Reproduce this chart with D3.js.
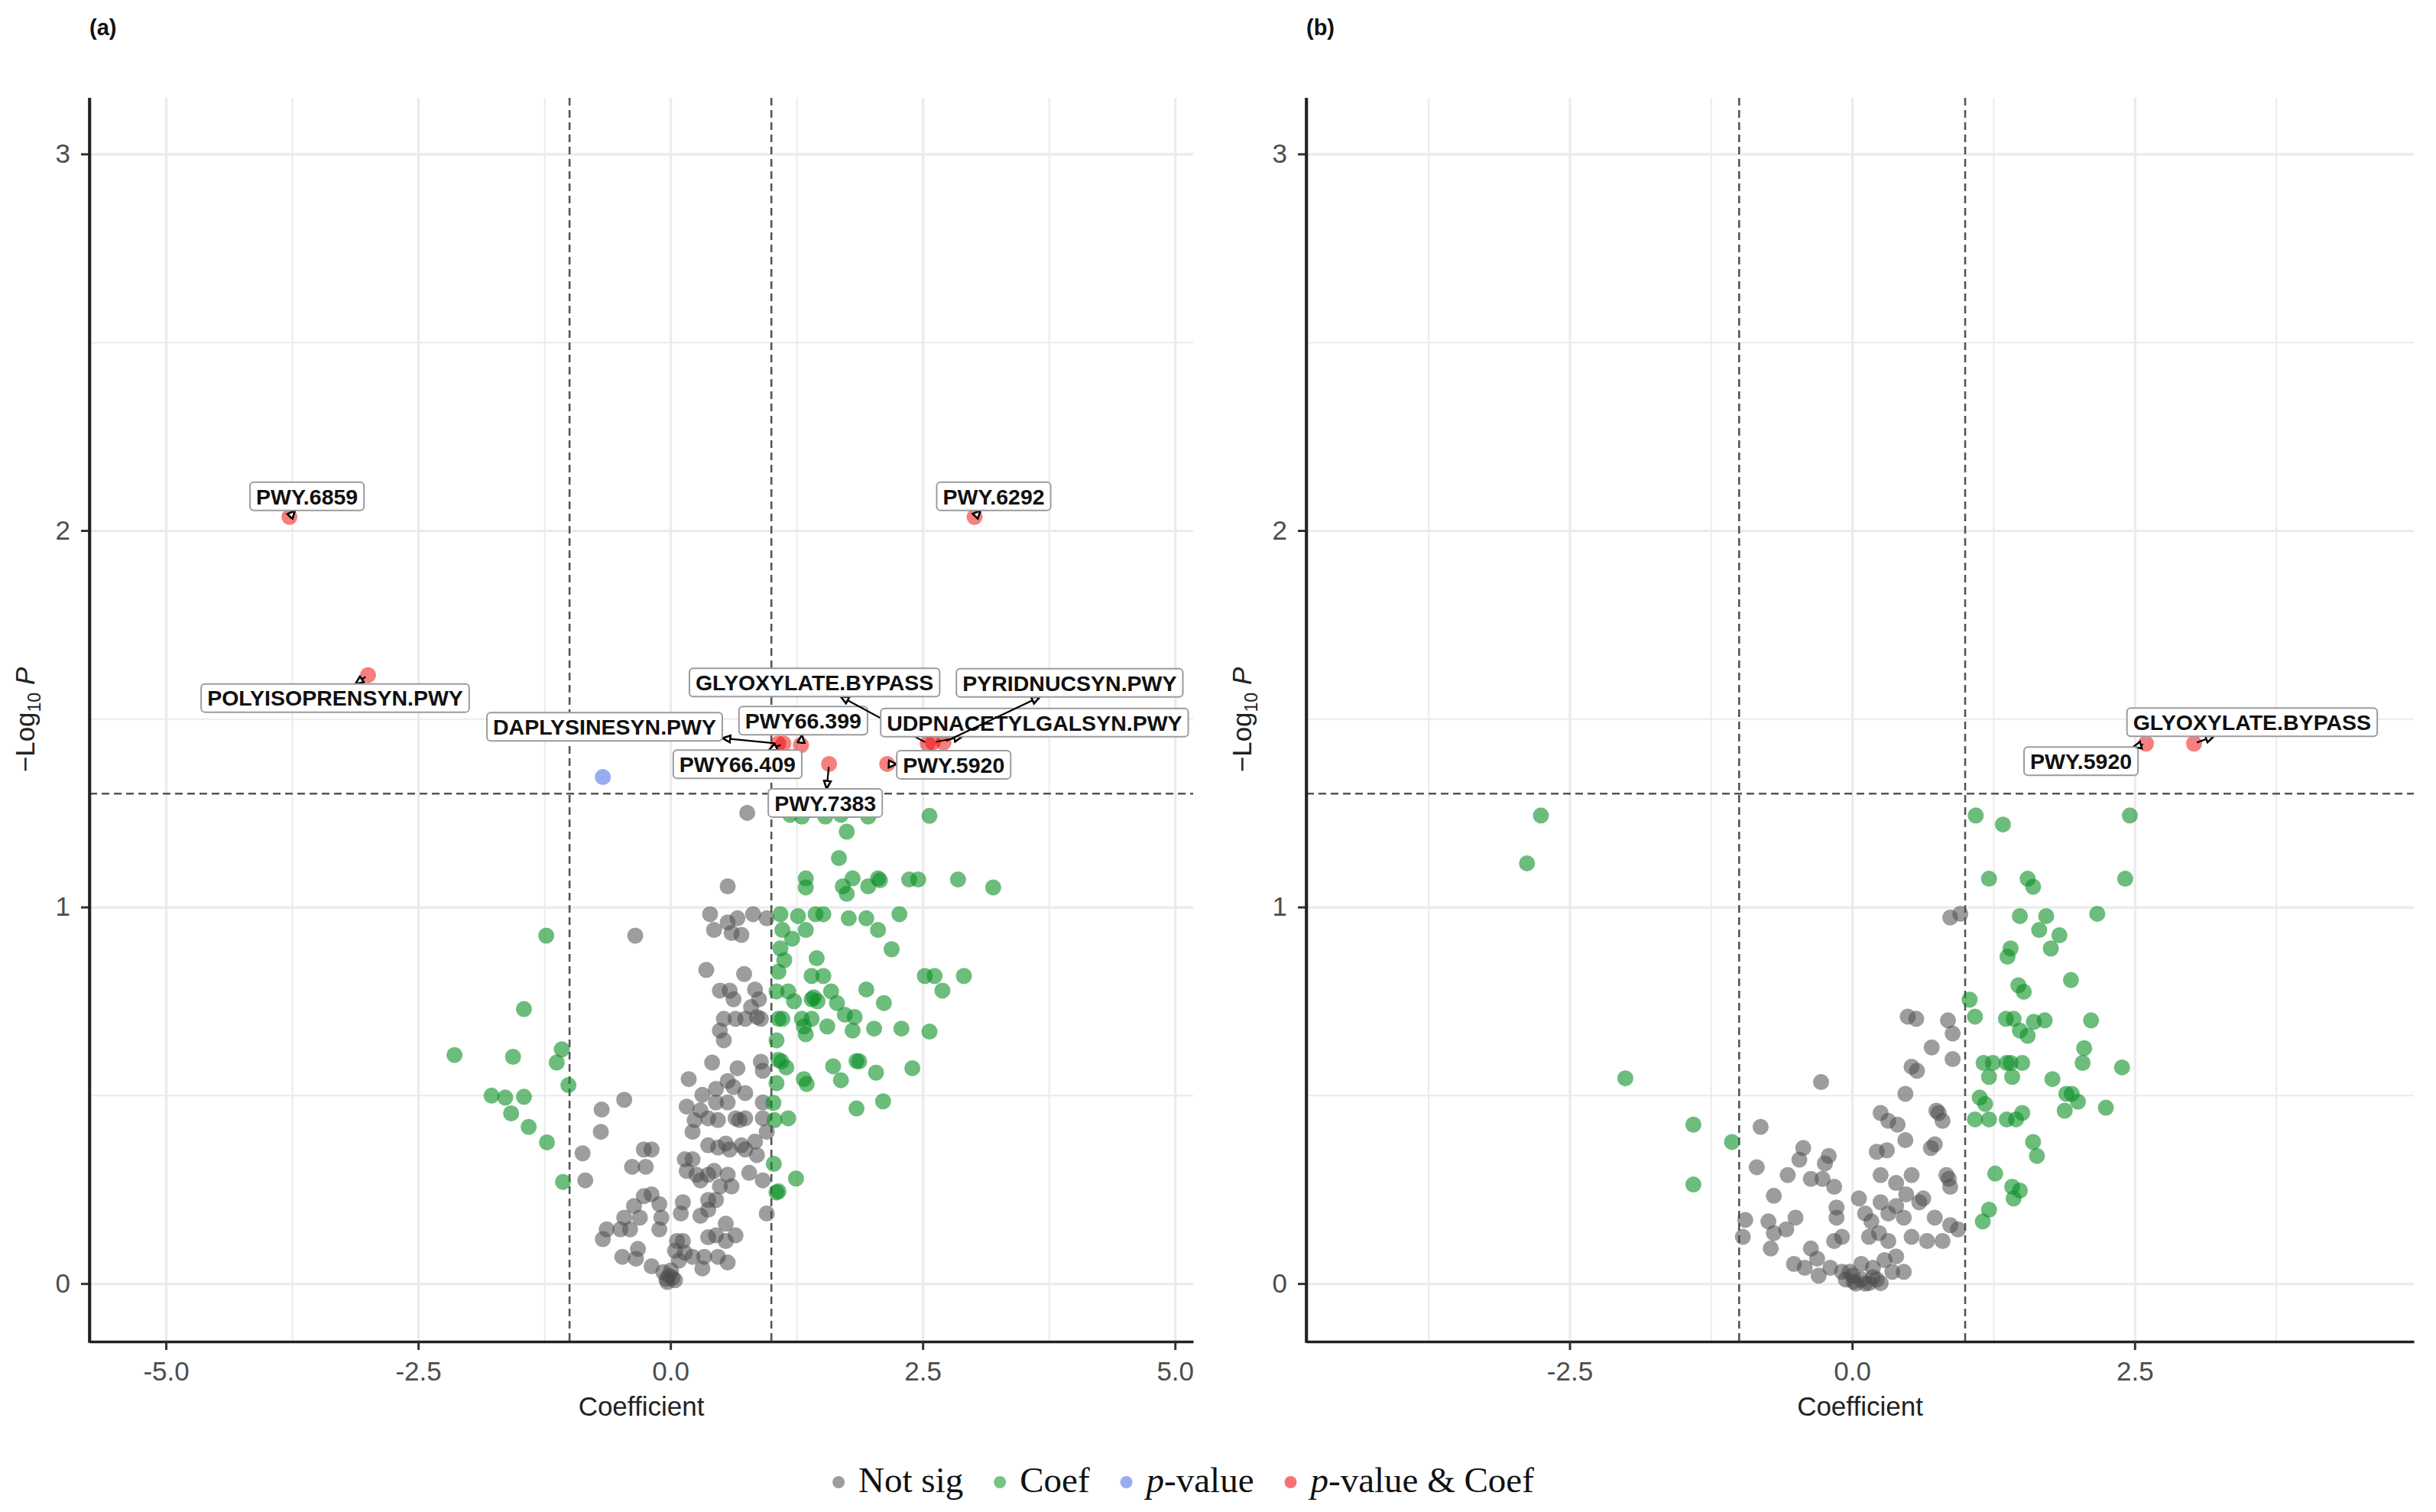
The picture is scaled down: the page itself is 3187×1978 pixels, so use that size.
<!DOCTYPE html>
<html>
<head>
<meta charset="utf-8">
<script src="https://cdn.jsdelivr.net/npm/d3@7"></script>
<style>
  body { margin: 0; background: #fff; }
  svg { display: block; }
</style>
</head>
<body>
<svg id="chart"></svg>
<script>
// ---- panel (a) values: [coefficient, -log10 p]
const aNotSig = [
  [0.761,1.250],[0.567,1.055],
  [0.393,0.981],[0.432,0.939],[0.567,0.959],[0.664,0.970],[0.703,0.926],[0.606,0.931],[0.819,0.981],[0.954,0.970],
  [-0.349,0.924],[0.355,0.833],[0.730,0.822],
  [0.490,0.778],[0.587,0.778],[0.625,0.755],[0.838,0.781],[0.877,0.755],[0.799,0.734],[0.857,0.708],[0.896,0.703],
  [0.529,0.703],[0.645,0.703],[0.741,0.703],[0.490,0.672],[0.529,0.646],
  [0.413,0.587],[0.664,0.572],[0.896,0.589],[0.915,0.565],
  [0.181,0.543],[0.316,0.501],[0.451,0.517],[0.567,0.538],[0.625,0.522],[0.741,0.506],
  [0.161,0.470],[0.297,0.460],[0.451,0.481],[0.567,0.481],
  [0.374,0.439],[0.471,0.434],[0.645,0.439],[0.741,0.439],[0.683,0.434],[0.239,0.434],[0.219,0.403],[0.915,0.439],[0.915,0.481],[0.954,0.403],
  [-0.458,0.488],[-0.682,0.462],[-0.690,0.403],[-0.871,0.346],[-0.844,0.274],
  [0.374,0.367],[0.471,0.361],[0.548,0.372],[0.587,0.356],[0.703,0.367],[0.741,0.356],[0.838,0.377],[0.857,0.341],
  [-0.264,0.356],[-0.187,0.356],[-0.380,0.310],[-0.245,0.310],
  [0.142,0.330],[0.219,0.330],[0.161,0.299],[0.258,0.289],[0.297,0.274],[0.374,0.289],[0.432,0.299],[0.490,0.258],[0.567,0.289],[0.606,0.258],
  [0.780,0.294],[0.915,0.274],
  [0.123,0.216],[0.103,0.186],[0.297,0.180],[0.374,0.222],[0.451,0.222],[0.374,0.196],
  [-0.264,0.232],[-0.187,0.237],[-0.361,0.206],[-0.303,0.175],[-0.110,0.211],[-0.090,0.175],
  [-0.458,0.175],[-0.496,0.144],[-0.400,0.144],[-0.632,0.144],[-0.670,0.118],[-0.110,0.144],
  [-0.322,0.092],[-0.477,0.071],[-0.342,0.066],[-0.187,0.046],
  [0.065,0.113],[0.123,0.113],[0.045,0.087],[0.142,0.082],[0.084,0.061],
  [0.219,0.071],[0.335,0.071],[0.471,0.071],[0.567,0.056],[0.316,0.040],[0.374,0.123],[0.451,0.128],[0.548,0.159],[0.645,0.128],[0.548,0.113],
  [0.954,0.186],
  [-0.071,0.030],[-0.013,0.020],[0.045,0.009],[-0.032,0.004],[0.006,0.035],[0.020,0.015],[-0.040,0.012]
];
const aCoef = [
  [1.186,1.245],[1.302,1.240],[1.535,1.240],[1.689,1.245],[1.960,1.240],[2.567,1.242],
  [1.747,1.200],[1.670,1.130],
  [1.341,1.076],[1.341,1.052],[1.805,1.076],[1.708,1.055],[1.747,1.035],[1.960,1.055],[2.057,1.076],[2.076,1.071],
  [2.366,1.073],[2.455,1.073],[2.850,1.073],[3.198,1.052],
  [1.090,0.981],[1.264,0.976],[1.341,0.939],[1.438,0.981],[1.515,0.981],[1.767,0.970],[1.941,0.970],[2.057,0.939],
  [2.269,0.981],[1.109,0.939],[1.206,0.916],[1.090,0.890],[1.128,0.859],[1.070,0.828],[1.449,0.864],[2.192,0.888],
  [-1.231,0.924],
  [1.399,0.817],[1.515,0.817],[2.521,0.817],[2.617,0.817],[2.908,0.817],[2.695,0.778],[1.941,0.781],[1.051,0.776],
  [1.167,0.776],[1.399,0.755],[1.457,0.750],[1.420,0.760],[1.592,0.776],[1.650,0.745],[1.728,0.714],[2.115,0.745],[1.225,0.750],
  [1.070,0.703],[1.109,0.703],[1.302,0.703],[1.399,0.703],[1.554,0.683],[1.825,0.708],[1.805,0.672],[2.018,0.677],
  [2.289,0.677],[2.567,0.669],[1.341,0.662],[1.322,0.683],[1.051,0.646],
  [-1.452,0.729],[-2.140,0.607],[-1.560,0.602],[-1.077,0.622],[-1.127,0.587],[-1.011,0.527],[-1.773,0.499],[-1.637,0.494],
  [-1.452,0.496],[-1.579,0.452],[-1.405,0.416],[-1.224,0.375],[-1.065,0.270],
  [1.070,0.594],[1.148,0.574],[1.100,0.590],[1.322,0.543],[1.350,0.530],[1.612,0.577],[1.689,0.540],[1.844,0.591],
  [1.870,0.590],[2.037,0.560],[2.397,0.572],[1.844,0.465],[2.107,0.484],[1.051,0.532],[1.020,0.480],[1.031,0.434],
  [1.167,0.439],[1.024,0.318],[1.051,0.242],[1.070,0.245],[1.244,0.279]
];
const aPval = [[-0.670,1.345]];
const aBoth = [
  [-3.776,2.036],[3.014,2.036],[-2.997,1.616],[1.067,1.434],[1.119,1.434],[1.293,1.430],
  [1.572,1.380],[2.148,1.380],[2.549,1.434],[2.600,1.437],[2.706,1.437]
];
const aLabels = [
  'PWY.6859','PWY.6292','POLYISOPRENSYN.PWY','DAPLYSINESYN.PWY','PWY66.409','PWY66.399',
  'PWY.7383','PWY.5920','GLYOXYLATE.BYPASS','UDPNACETYLGALSYN.PWY','PYRIDNUCSYN.PWY'
];

// ---- panel (b) values
const bNotSig = [
  [0.868,0.972],[0.957,0.982],[0.492,0.709],[0.567,0.703],[0.848,0.699],[0.889,0.664],[0.704,0.627],[0.889,0.596],
  [0.526,0.576],[0.574,0.565],[-0.275,0.535],[0.471,0.504],[0.745,0.459],[0.766,0.453],[0.252,0.453],[0.320,0.432],
  [0.402,0.422],[0.800,0.432],[-0.810,0.416],[0.218,0.350],[0.307,0.354],[0.471,0.381],[0.697,0.360],[0.731,0.370],
  [-0.433,0.360],[-0.467,0.329],[-0.207,0.339],[-0.241,0.319],[-0.844,0.309],[-0.570,0.288],[-0.365,0.278],[-0.262,0.278],
  [-0.159,0.257],[0.252,0.288],[0.389,0.267],[0.526,0.288],[0.834,0.288],[0.868,0.257],[0.855,0.278],
  [-0.693,0.233],[0.060,0.226],[0.252,0.216],[0.389,0.206],[0.478,0.237],[0.594,0.216],[0.629,0.226],
  [-0.138,0.202],[-0.138,0.175],[-0.501,0.175],[-0.946,0.169],[-0.741,0.165],
  [0.115,0.186],[0.170,0.165],[0.320,0.186],[0.457,0.175],[0.731,0.175],[0.868,0.155],[0.937,0.144],
  [-0.967,0.124],[-0.693,0.134],[-0.720,0.093],[-0.583,0.144],[-0.365,0.093],[-0.159,0.113],[-0.090,0.124],
  [0.149,0.124],[0.238,0.134],[0.320,0.113],[0.526,0.124],[0.663,0.113],[0.800,0.113],
  [-0.515,0.052],[-0.419,0.042],[-0.310,0.066],[-0.296,0.021],[-0.193,0.042],[-0.090,0.031],[-0.022,0.031],
  [0.081,0.052],[0.184,0.042],[0.286,0.062],[0.389,0.072],[0.457,0.031],[0.355,0.031],
  [-0.056,0.011],[0.012,0.005],[0.081,0.011],[0.149,0.001],[0.218,0.011],[0.033,0.000],[0.115,0.000],
  [0.184,0.017],[0.252,0.001],[0.006,0.021]
];
const bCoef = [
  [-2.754,1.243],[-2.877,1.116],[-2.007,0.545],[-1.405,0.422],[-1.405,0.263],[-1.063,0.376],
  [1.094,1.243],[1.334,1.219],[2.457,1.243],[1.211,1.075],[1.553,1.075],[1.601,1.054],[2.416,1.075],
  [1.484,0.976],[1.717,0.976],[2.169,0.982],[1.655,0.939],[1.834,0.925],[1.402,0.890],[1.375,0.868],[1.758,0.890],
  [1.936,0.806],[1.471,0.792],[1.519,0.775],[1.039,0.754],[1.087,0.709],[1.361,0.703],[1.429,0.703],
  [1.484,0.672],[1.553,0.658],[1.608,0.695],[1.704,0.699],[2.114,0.699],[2.053,0.625],[2.039,0.586],
  [1.163,0.586],[1.245,0.586],[1.368,0.586],[1.402,0.586],[1.505,0.586],[1.416,0.549],[1.211,0.549],[1.772,0.543],
  [2.388,0.574],[1.895,0.504],[1.943,0.504],[1.998,0.483],[1.881,0.459],[2.245,0.467],
  [1.129,0.494],[1.177,0.477],[1.211,0.436],[1.087,0.436],[1.368,0.436],[1.450,0.436],[1.505,0.453],
  [1.601,0.376],[1.635,0.339],[1.266,0.292],[1.416,0.257],[1.484,0.247],[1.429,0.226],[1.211,0.196],[1.156,0.165]
];
const bPval = [];
const bBoth = [[2.600,1.434],[3.025,1.434]];
const bLabels = ['PWY.5920','GLYOXYLATE.BYPASS'];

// ---- ticks and legend
const yTicks = [0, 1, 2, 3];
const yMinor = [0.5, 1.5, 2.5];
const aXTicks = [-5, -2.5, 0, 2.5, 5];
const bXTicks = [-2.5, 0, 2.5];
const xMinor = [-3.75, -1.25, 1.25, 3.75];
const coefCut = [-1, 1];
const pCut = 1.301;
const legendKeys = ['Not sig', 'Coef', 'p-value', 'p-value & Coef'];

// label placement (px offset of box centre from its point)
const aLabelOffsets = [
  [23,-27],[25,-27],[-43,30],[-227,-22],[-60,27],[3,-32],[-5,51],[87,1],[-148,-80],[133,-26],[165,-78]
];
const bLabelOffsets = [[-85,23],[76,-28]];

const W = 3187, H = 1978;
const plotTop = 128, plotBottom = 1755;
const sans = '"Liberation Sans", Arial, sans-serif';
const colours = ['#4d4d4d', '#0a8f24', '#4169e1', '#ee0000'];
const opacities = [0.55, 0.6, 0.55, 0.5];

const svg = d3.select('#chart').attr('width', W).attr('height', H);
svg.append('rect').attr('width', W).attr('height', H).attr('fill', '#fff');

svg.append('defs').append('marker')
  .attr('id', 'tri')
  .attr('viewBox', '0 0 10 10')
  .attr('refX', 9).attr('refY', 5)
  .attr('markerWidth', 13).attr('markerHeight', 13)
  .attr('markerUnits', 'userSpaceOnUse')
  .attr('orient', 'auto')
  .append('path')
  .attr('d', 'M1,1.5 L9,5 L1,8.5 Z')
  .attr('fill', '#fff').attr('stroke', '#000').attr('stroke-width', 2);

function drawPanel(cfg) {
  const x = d3.scaleLinear().domain(cfg.xDomain).range([cfg.left, cfg.right]);
  const y = d3.scaleLinear().domain([-0.154, 3.149]).range([plotBottom, plotTop]);
  const g = svg.append('g');

  // grid
  const grid = (sel, w) => sel.call(s => s.select('.domain').remove())
    .selectAll('line').attr('stroke', '#ebebeb').attr('stroke-width', w);
  g.append('g').attr('transform', `translate(0,${plotBottom})`)
    .call(d3.axisBottom(x).tickValues(xMinor.filter(v => x(v) > cfg.left)).tickSize(-(plotBottom - plotTop)).tickFormat(''))
    .call(grid, 2);
  g.append('g').attr('transform', `translate(${cfg.left},0)`)
    .call(d3.axisLeft(y).tickValues(yMinor).tickSize(-(cfg.right - cfg.left)).tickFormat(''))
    .call(grid, 2);
  g.append('g').attr('transform', `translate(0,${plotBottom})`)
    .call(d3.axisBottom(x).tickValues(cfg.xTicks).tickSize(-(plotBottom - plotTop)).tickFormat(''))
    .call(grid, 3.2);
  g.append('g').attr('transform', `translate(${cfg.left},0)`)
    .call(d3.axisLeft(y).tickValues(yTicks).tickSize(-(cfg.right - cfg.left)).tickFormat(''))
    .call(grid, 3.2);

  // cut-off lines
  g.selectAll('.vcut').data(coefCut).enter().append('line')
    .attr('x1', d => x(d)).attr('x2', d => x(d)).attr('y1', plotTop).attr('y2', plotBottom)
    .attr('stroke', '#555').attr('stroke-width', 2.6).attr('stroke-dasharray', '10,6');
  g.append('line')
    .attr('x1', cfg.left).attr('x2', cfg.right).attr('y1', y(pCut)).attr('y2', y(pCut))
    .attr('stroke', '#555').attr('stroke-width', 2.6).attr('stroke-dasharray', '10,6');

  // points
  [cfg.notSig, cfg.coef, cfg.pval, cfg.both].forEach((set, i) => {
    g.append('g').selectAll('circle').data(set).enter().append('circle')
      .attr('cx', d => x(d[0])).attr('cy', d => y(d[1])).attr('r', 10.5)
      .attr('fill', colours[i]).attr('fill-opacity', opacities[i]);
  });

  // axes
  const xAxis = g.append('g').attr('transform', `translate(0,${plotBottom})`)
    .call(d3.axisBottom(x).tickValues(cfg.xTicks).tickSize(11).tickSizeOuter(0).tickPadding(15)
      .tickFormat(d => d.toFixed(1)));
  const yAxis = g.append('g').attr('transform', `translate(${cfg.left},0)`)
    .call(d3.axisLeft(y).tickValues(yTicks).tickSize(11).tickSizeOuter(0).tickPadding(14)
      .tickFormat(d => String(d)));
  [xAxis, yAxis].forEach(a => {
    a.select('.domain').attr('stroke', '#222').attr('stroke-width', 3.6);
    a.selectAll('.tick line').attr('stroke', '#333').attr('stroke-width', 3);
    a.selectAll('.tick text').attr('fill', '#4d4d4d').style('font-family', sans).style('font-size', '35px');
  });
  // close the corner
  g.append('line').attr('x1', cfg.left).attr('x2', cfg.left).attr('y1', plotTop).attr('y2', plotBottom + 1.8)
    .attr('stroke', '#222').attr('stroke-width', 3.6);

  // axis titles
  g.append('text')
    .attr('x', (cfg.left + cfg.right) / 2).attr('y', 1852)
    .attr('text-anchor', 'middle').attr('fill', '#222')
    .style('font-family', sans).style('font-size', '35px')
    .text('Coefficient');
  const yt = g.append('text')
    .attr('transform', `translate(${cfg.left - 72},${(plotTop + plotBottom) / 2}) rotate(-90)`)
    .attr('text-anchor', 'middle').attr('fill', '#222')
    .style('font-family', sans).style('font-size', '35px');
  yt.append('tspan').text('\u2212Log');
  yt.append('tspan').attr('dy', 8).style('font-size', '23px').text('10');
  yt.append('tspan').attr('dy', -8).text(' ');
  yt.append('tspan').style('font-style', 'italic').text('P');

  // panel tag
  g.append('text')
    .attr('x', cfg.left).attr('y', 46)
    .attr('fill', '#111').style('font-family', sans).style('font-size', '29px').style('font-weight', 'bold')
    .text(cfg.tag);

  // labels
  cfg.labels.forEach((name, i) => {
    const px = x(cfg.both[i][0]), py = y(cfg.both[i][1]);
    const cx = px + cfg.offsets[i][0], cy = py + cfg.offsets[i][1];
    const lg = g.append('g');
    const rect = lg.append('rect');
    const t = lg.append('text')
      .attr('x', cx).attr('y', cy).attr('dy', '0.36em')
      .attr('text-anchor', 'middle').attr('fill', '#111')
      .style('font-family', sans).style('font-size', '28.5px').style('font-weight', 'bold')
      .text(name);
    const w = t.node().getComputedTextLength() + 16, h = 37;
    rect.attr('x', cx - w / 2).attr('y', cy - h / 2).attr('width', w).attr('height', h)
      .attr('rx', 5).attr('fill', '#fff').attr('stroke', '#9c9c9c').attr('stroke-width', 2);

    // segment from the point to the box edge, arrow head at the box
    const dx = px - cx, dy = py - cy;
    const tx = dx === 0 ? Infinity : (w / 2) / Math.abs(dx);
    const ty = dy === 0 ? Infinity : (h / 2) / Math.abs(dy);
    const tEdge = Math.min(tx, ty);
    if (tEdge < 1) {
      const ex = cx + dx * tEdge, ey = cy + dy * tEdge;
      const len = Math.hypot(px - ex, py - ey);
      const sx = px - (px - ex) / len * Math.min(4, len / 2), sy = py - (py - ey) / len * Math.min(4, len / 2);
      lg.insert('line', 'rect')
        .attr('x1', sx).attr('y1', sy).attr('x2', ex).attr('y2', ey)
        .attr('stroke', '#000').attr('stroke-width', 2.2)
        .attr('marker-end', 'url(#tri)');
    }
  });
}

drawPanel({
  tag: '(a)', left: 117, right: 1561, xDomain: [-5.758, 5.18], xTicks: aXTicks,
  notSig: aNotSig, coef: aCoef, pval: aPval, both: aBoth, labels: aLabels, offsets: aLabelOffsets
});
drawPanel({
  tag: '(b)', left: 1709, right: 3158, xDomain: [-4.83, 4.97], xTicks: bXTicks,
  notSig: bNotSig, coef: bCoef, pval: bPval, both: bBoth, labels: bLabels, offsets: bLabelOffsets
});

// legend
const serif = '"Liberation Serif", "Times New Roman", serif';
const legend = svg.append('g');
let lx = 0;
legendKeys.forEach((key, i) => {
  legend.append('circle').attr('cx', lx).attr('cy', -13).attr('r', 8)
    .attr('fill', colours[i]).attr('fill-opacity', 0.55);
  const t = legend.append('text').attr('x', lx + 26).attr('y', 0)
    .attr('fill', '#111').style('font-family', serif).style('font-size', '47px');
  if (key.startsWith('p-value')) {
    t.append('tspan').style('font-style', 'italic').text('p');
    t.append('tspan').text(key.slice(1));
  } else {
    t.text(key);
  }
  lx += 26 + t.node().getComputedTextLength() + 48;
});
const lw = lx - 48 + 8;
legend.attr('transform', `translate(${1548 - lw / 2 + 8},1952)`);
</script>
</body>
</html>
